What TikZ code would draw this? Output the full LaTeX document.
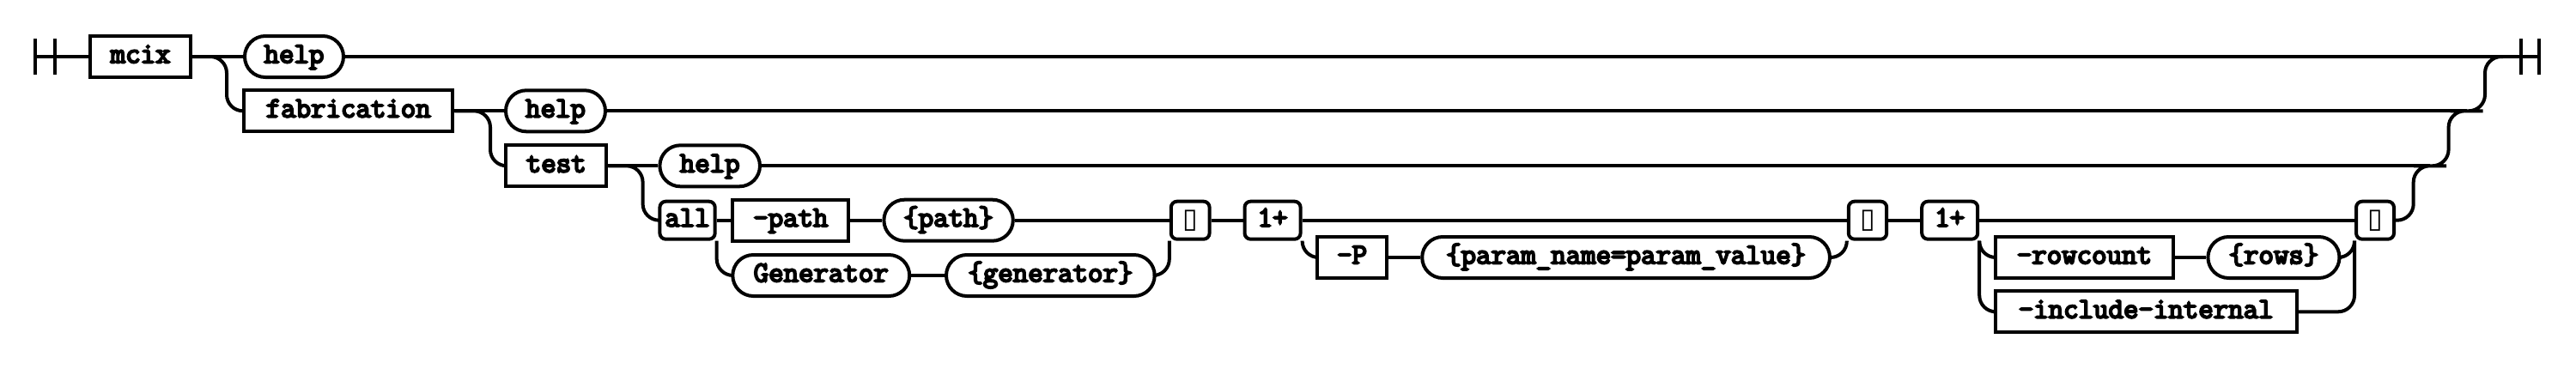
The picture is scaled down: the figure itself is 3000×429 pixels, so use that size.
\documentclass[tikz,border=0pt]{standalone}
\usepackage{fontspec}
\newfontfamily\rrmono{Latin Modern Mono}[FakeBold=6]
\newfontfamily\rrdjv{DejaVu Sans}
\begin{document}
\begin{tikzpicture}[x=0.5pt,y=-0.5pt,
  base/.style={draw, line width=2pt, inner sep=0pt, minimum height=24pt,
    font=\rrmono\fontsize{16.95pt}{18pt}\selectfont,
    text height=7.3pt, text depth=0pt},
  term/.style={base, rectangle},
  pill/.style={base, rounded corners=12pt},
  grp/.style={base, rounded corners=3.5pt, minimum height=22pt},
  tofu/.style={draw, line width=2pt, inner sep=0pt, minimum height=22pt,
    minimum width=22pt, rounded corners=3.5pt,
    font=\rrdjv\fontsize{16pt}{18pt}\selectfont},
  wire/.style={line width=2pt, rounded corners=9.5pt},
  bar/.style={line width=2pt}]
\useasboundingbox (0,0) rectangle (3000,429);
% start / end marks
\coordinate (s1) at (41.3,66);
\coordinate (s2) at (64.3,66);
\coordinate (e1) at (2935.8,66);
\coordinate (e2) at (2956.8,66);
\coordinate (j3) at (2830,193.3);
\coordinate (j2) at (2872.5,129.3);
\coordinate (j1) at (2915,66);
\draw[bar] (41.3,45) -- (41.3,87);
\draw[bar] (64.3,45) -- (64.3,87);
\draw[bar] (2935.8,45) -- (2935.8,87);
\draw[bar] (2956.8,45) -- (2956.8,87);
% nodes
\node[term, minimum width=58.4pt] (mcix) at (163.6,66) {mcix};
\node[pill, minimum width=57.5pt] (help1) at (342.5,66) {help};
\node[term, minimum width=121.7pt] (fab) at (405.7,129.3) {fabrication};
\node[pill, minimum width=58pt] (help2) at (647,129.3) {help};
\node[term, minimum width=58.7pt] (test) at (647.7,193.3) {test};
\node[pill, minimum width=58.3pt] (help3) at (826.7,193.3) {help};
\node[grp, minimum width=32.15pt] (all) at (800.55,256.7) {all};
\node[term, minimum width=67.55pt] (path) at (920.85,256.7) {-path};
\node[pill, minimum width=75.2pt] (pathv) at (1104.6,256.7) {\{path\}};
\node[pill, minimum width=102.95pt] (gen) at (956.25,321) {Generator};
\node[pill, minimum width=121.35pt] (genv) at (1223.35,321) {\{generator\}};
\node[tofu, minimum width=22.4pt] (t1) at (1386.2,256.7) {▯};
\node[grp, minimum width=32.55pt] (p1) at (1482.05,256.7) {1+};
\node[term, minimum width=40.6pt] (P) at (1574.6,300) {-P};
\node[pill, minimum width=237.4pt] (param) at (1893.6,300) {\{param\_name=param\_value\}};
\node[tofu, minimum width=22.2pt] (t2) at (2175,256.7) {▯};
\node[grp, minimum width=32.5pt] (p2) at (2270.7,256.7) {1+};
\node[term, minimum width=103.9pt] (rc) at (2427.4,300) {-rowcount};
\node[pill, minimum width=76.55pt] (rows) at (2647.95,300) {\{rows\}};
\node[term, minimum width=175.65pt] (inc) at (2499.15,363.3) {-include-internal};
\node[tofu, minimum width=22pt] (t3) at (2766,256.7) {▯};
% connectors
\draw[wire] (s1) -- (mcix.west);
\draw[wire] (mcix.east) -- (help1.west);
\draw[wire] (help1.east) -- (e2);
\draw[wire] (mcix.east) -- ++(40,0) |- (fab.west);
\draw[wire] (fab.east) -- (help2.west);
\draw[wire] (help2.east) -- (j2);
\draw[wire] (fab.east) -- ++(41.6,0) |- (test.west);
\draw[wire] (test.east) -- (help3.west);
\draw[wire] (help3.east) -- (j3);
\draw[wire] (test.east) -- ++(40.2,0) |- (all.west);
\draw[wire] (all.east) -- (path.west);
\draw[wire] (path.east) -- (pathv.west);
\draw[wire] (pathv.east) -- (t1.west);
\draw[wire] (all.south east) |- (gen.west);
\draw[wire] (gen.east) -- (genv.west);
\draw[wire] (genv.east) -| (t1.south west);
\draw[wire] (t1.east) -- (p1.west);
\draw[wire] (p1.east) -- (t2.west);
\draw[wire] (p1.south east) |- (P.west);
\draw[wire] (P.east) -- (param.west);
\draw[wire] (param.east) -| (t2.south west);
\draw[wire] (t2.east) -- (p2.west);
\draw[wire] (p2.east) -- (t3.west);
\draw[wire] (p2.south east) |- (rc.west);
\draw[wire] (p2.south east) |- (inc.west);
\draw[wire] (rc.east) -- (rows.west);
\draw[wire] (rows.east) -| (t3.south west);
\draw[wire] (inc.east) -| (t3.south west);
\draw[wire] (t3.east) -- ++(20.7,0) |- (j3) -- ++(21.6,0) |- (j2) -- ++(21.5,0) |- (j1);
\end{tikzpicture}
\end{document}
